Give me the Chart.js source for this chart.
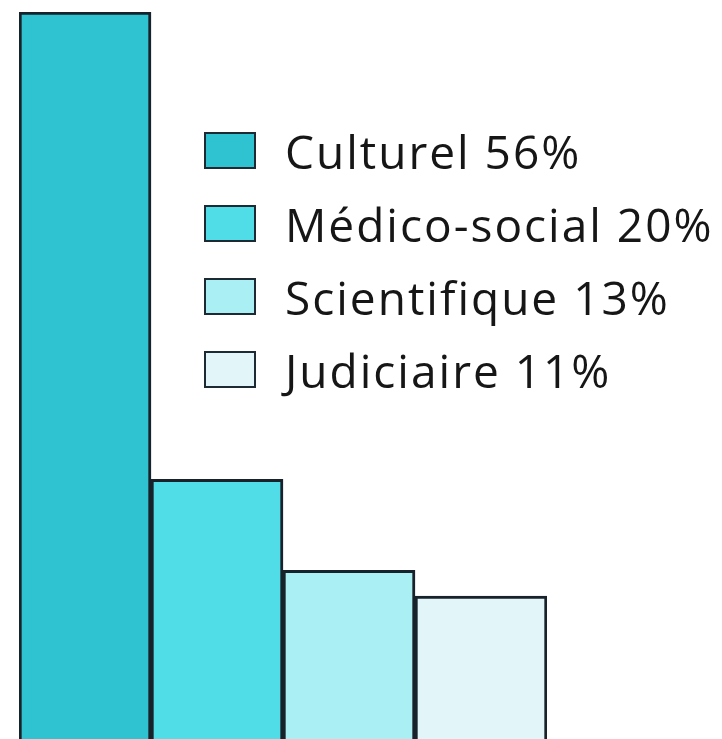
<!DOCTYPE html>
<html>
<head>
<meta charset="utf-8">
<script src="https://cdn.jsdelivr.net/npm/chart.js@4/dist/chart.umd.min.js"></script>
<style>
    html, body { margin: 0; padding: 0; background: #fff; }
    #wrap { position: relative; width: 722px; height: 739px; overflow: hidden; }
    #chart { position: absolute; left: 0; top: 0; }
    #legend { position: absolute; left: 204px; top: 114px; font-family: "Open Sans", sans-serif; font-size: 46px; letter-spacing: 2px; color: #161616; }
    .row { display: flex; align-items: center; height: 73px; white-space: pre; }
    .box { width: 48px; height: 33px; border: 2px solid #1d2a33; margin-right: 29px; flex: none; }
</style>
</head>
<body>
<div id="wrap">
    <canvas id="chart" width="722" height="739"></canvas>
    <div id="legend"></div>
</div>
<script>
// data
const categories = ['Culturel', 'Médico-social', 'Scientifique', 'Judiciaire'];
const shares = [56, 20, 13, 11];
const barColors = ['#2fc2d1', '#50dde7', '#a9eff4', '#e2f6f9'];

// legend en HTML
const legend = document.getElementById('legend');
legend.innerHTML = categories.map((c, i) => `
    <div class="row"><span class="box" style="background:${barColors[i]}"></span><span>${c} ${shares[i]}%</span></div>
`).join('');

new Chart(document.getElementById('chart'), {
    type: 'bar',
    data: {
        labels: categories,
        datasets: [{
            data: shares,
            backgroundColor: barColors,
            borderColor: '#17222b',
            borderWidth: 3,
            categoryPercentage: 1,
            barPercentage: 1,
        }]
    },
    options: {
        responsive: false,
        animation: false,
        layout: { padding: { left: 19, right: 175, top: 12, bottom: 0 } },
        plugins: { legend: { display: false }, tooltip: { enabled: false } },
        scales: {
            x: { display: false },
            y: { display: false, min: 0, max: 56 }
        }
    }
});
</script>
</body>
</html>
